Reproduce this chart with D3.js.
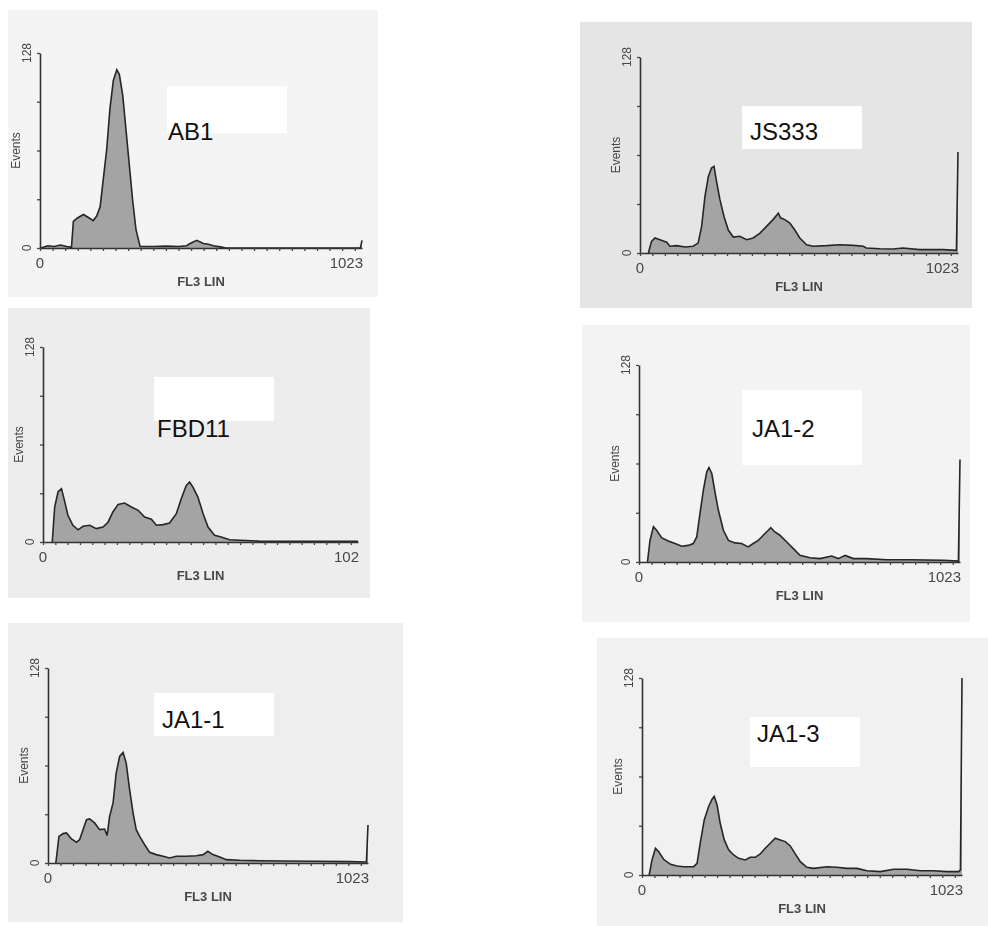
<!DOCTYPE html>
<html lang="en">
<head>
  <meta charset="UTF-8">
  <title>FL3 LIN histograms</title>
  <style>
    body { margin: 0; background: #fff; }
    svg { display: block; }
    .tick-label, .axis-title { font-family: "Liberation Sans Narrow", "Arial Narrow", "Liberation Sans", sans-serif; fill: #474747; }
    .sample-name { font-family: "Liberation Sans", Arial, sans-serif; fill: #111; }
  </style>
</head>
<body>
  <div id="chart"></div>
  <script src="https://d3js.org/d3.v7.min.js"></script>
  <script>
    const width = 988
    const height = 926

    // sample names, in drawing order
    const samples = ['AB1', 'JS333', 'FBD11', 'JA1-2', 'JA1-1', 'JA1-3']

    // axis settings
    const channelRange = [0, 1023]
    const eventsRange = [0, 128]
    const yTicks = [0, 32, 64, 96, 128]
    const xTickStep = 40
    const xTickLabels = [['0', '1023'], ['0', '1023'], ['0', '102'], ['0', '1023'], ['0', '1023'], ['0', '1023']]

    // histograms: [channel, events]
    const ab1 = [[0, 0], [10, 0.5], [25, 1.5], [45, 1], [65, 2], [85, 1], [100, 0.5], [106, 17.5], [119, 19.7], [138, 22],
      [154, 20], [169, 18], [180, 21], [191, 27], [201, 45], [212, 65], [222, 91], [233, 110], [244, 117], [252, 114],
      [263, 100], [273, 78], [284, 54], [294, 32], [305, 12], [318, 1], [360, 1], [400, 1.2], [440, 1], [466, 1.5],
      [477, 3], [498, 5], [519, 3], [535, 2.5], [551, 1.5], [577, 0.6], [590, 0], [1018, 0], [1023, 5]]

    const js333 = [[27, 0], [37, 7.6], [48, 9.8], [64, 8.7], [86, 7], [96, 4.4], [118, 4.8], [145, 3.9], [171, 4.4],
      [187, 6.5], [198, 17], [209, 37], [220, 50], [230, 55.5], [238, 56.6], [246, 47], [257, 35], [270, 24], [284, 15],
      [300, 10.4], [321, 10.9], [343, 8.7], [364, 9.8], [386, 13], [407, 17.4], [428, 21.8], [445, 26], [452, 23],
      [466, 21.8], [482, 19.6], [498, 15], [514, 9.8], [536, 5.4], [557, 4.4], [600, 4.8], [643, 5.4], [686, 5],
      [718, 4.4], [728, 3.3], [771, 2.8], [814, 2.6], [846, 3.3], [900, 2.2], [975, 2.2], [1018, 1.7], [1023, 66]]

    const fbd11 = [[30, 0], [38, 23], [49, 33], [60, 35], [70, 27], [81, 17.5], [97, 11], [114, 8], [130, 10.3],
      [152, 11], [173, 8.8], [195, 9.8], [211, 13], [227, 19.7], [244, 24.7], [265, 25.6], [287, 23], [309, 20.8],
      [330, 16.4], [352, 14.9], [368, 11], [390, 11.4], [411, 12.5], [433, 18.6], [449, 28.4], [465, 37], [476, 39.4],
      [487, 36], [503, 29.5], [520, 18.6], [536, 9.8], [557, 4.4], [579, 3.3], [606, 1.5], [639, 1.1], [700, 0.6],
      [800, 0.5], [900, 0.5], [1023, 0.4]]

    const ja12 = [[27, 0], [35, 14], [46, 23], [56, 20.6], [72, 15.8], [93, 13.7], [115, 12], [136, 10.2], [157, 10.8],
      [173, 12], [184, 16.3], [194, 31], [205, 46.6], [216, 58.6], [223, 61.4], [232, 57.5], [242, 45.5], [253, 33.6],
      [269, 20.6], [285, 14], [306, 12.4], [327, 12], [348, 9.8], [364, 12], [380, 14], [396, 17.4], [412, 20.6],
      [420, 22.3], [433, 19.5], [449, 17.4], [471, 13], [492, 8.7], [513, 4.3], [545, 2.8], [577, 2.2], [614, 3.9],
      [635, 2.2], [657, 4.3], [683, 2.2], [726, 2.2], [789, 1.5], [864, 1.5], [970, 1.1], [1018, 0.6], [1023, 66.6]]

    const ja11 = [[25, 0], [35, 17.5], [48, 19.3], [59, 19.7], [75, 15.8], [91, 13.6], [101, 15.3], [112, 21.9],
      [123, 28.4], [133, 28.9], [149, 26.3], [165, 21.9], [181, 22.3], [189, 18], [197, 30.6], [208, 39.4], [218, 59],
      [229, 70], [240, 72.6], [250, 65.6], [261, 48], [272, 32.8], [282, 21.9], [293, 17.5], [309, 12], [325, 7],
      [346, 5.5], [368, 4.4], [389, 3.3], [410, 4.4], [442, 4.4], [474, 4.8], [496, 5.5], [511, 7.7], [527, 5.5],
      [549, 3.9], [570, 2.2], [613, 1.8], [677, 1.5], [751, 1.3], [858, 1.1], [964, 0.9], [1018, 0.7], [1023, 25]]

    const ja13 = [[23, 0], [32, 9.8], [43, 17.4], [53, 15.2], [69, 10.2], [91, 6.9], [112, 5.9], [133, 5.4], [165, 5.4],
      [176, 7.6], [186, 20.6], [199, 35.8], [213, 44.5], [224, 49.2], [231, 51], [240, 45.5], [250, 33.6], [263, 22.8],
      [277, 16.3], [293, 13], [309, 10.8], [330, 9.8], [346, 11.5], [362, 11.5], [378, 13.7], [394, 17.4], [410, 20.6],
      [426, 23.9], [442, 22.8], [458, 21.7], [474, 18.9], [490, 13.7], [506, 8.7], [527, 5], [549, 4.3], [591, 5.4],
      [623, 5], [655, 4.3], [687, 4.3], [719, 2.8], [762, 2.2], [805, 3.7], [847, 3.7], [890, 2.8], [932, 2.8],
      [975, 2.2], [1012, 2.2], [1018, 3.3], [1023, 128]]

    const series = [ab1, js333, fbd11, ja12, ja11, ja13]

    // where each scanned panel sits on the page
    const layout = [
      { bg: [8, 10, 370, 287], plot: [40, 53, 362, 248], box: [167, 86, 120, 47], name: [168, 140], clipX: 380, shade: '#f4f4f4' },
      { bg: [580, 22, 392, 286], plot: [640, 57, 958, 253], box: [742, 106, 120, 43], name: [750, 140], clipX: 961, shade: '#e5e5e5' },
      { bg: [8, 308, 362, 290], plot: [43, 347, 358, 542], box: [154, 377, 120, 44], name: [157, 437], clipX: 380, shade: '#ededed' },
      { bg: [582, 325, 388, 297], plot: [639, 365, 960, 562], box: [742, 390, 120, 75], name: [752, 437], clipX: 980, shade: '#f3f3f3' },
      { bg: [8, 623, 395, 299], plot: [48, 668, 368, 863], box: [154, 693, 120, 43], name: [162, 728], clipX: 410, shade: '#eeeeee' },
      { bg: [597, 638, 391, 288], plot: [642, 678, 962, 875], box: [750, 717, 110, 50], name: [757, 742], clipX: 988, shade: '#f1f1f1' }
    ]

    const svg = d3.select('#chart').append('svg')
      .attr('width', width)
      .attr('height', height)

    const defs = svg.append('defs')
    defs.append('filter').attr('id', 'scan')
      .append('feGaussianBlur').attr('stdDeviation', 0.45)

    samples.forEach((name, i) => {
      const L = layout[i]
      const [px0, py1, px1, py0] = L.plot

      const x = d3.scaleLinear().domain(channelRange).range([px0, px1])
      const y = d3.scaleLinear().domain(eventsRange).range([py0, py1])

      defs.append('clipPath').attr('id', `clip${i}`)
        .append('rect').attr('x', 0).attr('y', 0).attr('width', L.clipX).attr('height', height)

      const g = svg.append('g').attr('class', 'panel').attr('filter', 'url(#scan)')

      // scanned paper background
      g.append('rect')
        .attr('x', L.bg[0]).attr('y', L.bg[1])
        .attr('width', L.bg[2]).attr('height', L.bg[3])
        .attr('fill', L.shade)

      // white box pasted behind the sample name
      g.append('rect')
        .attr('x', L.box[0]).attr('y', L.box[1])
        .attr('width', L.box[2]).attr('height', L.box[3])
        .attr('fill', '#fff')

      // histogram
      const area = d3.area()
        .x(d => x(d[0]))
        .y0(y(0))
        .y1(d => y(d[1]))
      const line = d3.line()
        .x(d => x(d[0]))
        .y(d => y(d[1]))

      g.append('path')
        .datum(series[i])
        .attr('d', area)
        .attr('fill', '#a4a4a4')

      g.append('path')
        .datum(series[i])
        .attr('d', line)
        .attr('fill', 'none')
        .attr('stroke', '#262626')
        .attr('stroke-width', 1.6)

      // y axis
      const yAxis = g.append('g')
        .attr('transform', `translate(${px0},0)`)
        .call(d3.axisLeft(y).tickValues(yTicks).tickSize(3).tickSizeOuter(0).tickFormat(() => ''))
      yAxis.select('.domain').attr('stroke', '#333').attr('stroke-width', 1.6)
      yAxis.selectAll('.tick line').attr('stroke', '#444').attr('stroke-width', 1.3)

      yAxis.selectAll('.end-label')
        .data([0, 128])
        .join('text')
        .attr('class', 'tick-label')
        .attr('transform', d => `translate(-9,${y(d)}) rotate(-90)`)
        .attr('text-anchor', 'middle')
        .attr('font-size', 12)
        .text(d => d)

      // x axis
      const xTicks = d3.range(0, 1024, xTickStep)
      const xAxis = g.append('g')
        .attr('transform', `translate(0,${py0})`)
        .call(d3.axisBottom(x).tickValues(xTicks).tickSize(3).tickSizeOuter(0).tickFormat(() => ''))
      xAxis.select('.domain').attr('stroke', '#333').attr('stroke-width', 1.6)
      xAxis.selectAll('.tick line').attr('stroke', '#444').attr('stroke-width', 1.3)

      const lbl = g.append('g').attr('clip-path', `url(#clip${i})`)
      lbl.append('text')
        .attr('class', 'tick-label')
        .attr('x', px0).attr('y', py0 + 20)
        .attr('text-anchor', 'middle')
        .attr('font-size', 15)
        .text(xTickLabels[i][0])
      lbl.append('text')
        .attr('class', 'tick-label')
        .attr('x', px1 + 1)
        .attr('y', py0 + 20)
        .attr('text-anchor', 'end')
        .attr('font-size', 15)
        .text(xTickLabels[i][1])

      // axis titles
      g.append('text')
        .attr('class', 'axis-title')
        .attr('x', (px0 + px1) / 2).attr('y', py0 + 38)
        .attr('text-anchor', 'middle')
        .attr('font-size', 13)
        .attr('font-weight', 'bold')
        .text('FL3 LIN')

      g.append('text')
        .attr('class', 'axis-title')
        .attr('transform', `translate(${px0 - 20},${(py0 + py1) / 2}) rotate(-90)`)
        .attr('text-anchor', 'middle')
        .attr('font-size', 12)
        .text('Events')

      // sample name
      svg.append('text')
        .attr('class', 'sample-name')
        .attr('x', L.name[0]).attr('y', L.name[1])
        .attr('font-size', 24)
        .text(name)
    })
  </script>
</body>
</html>
